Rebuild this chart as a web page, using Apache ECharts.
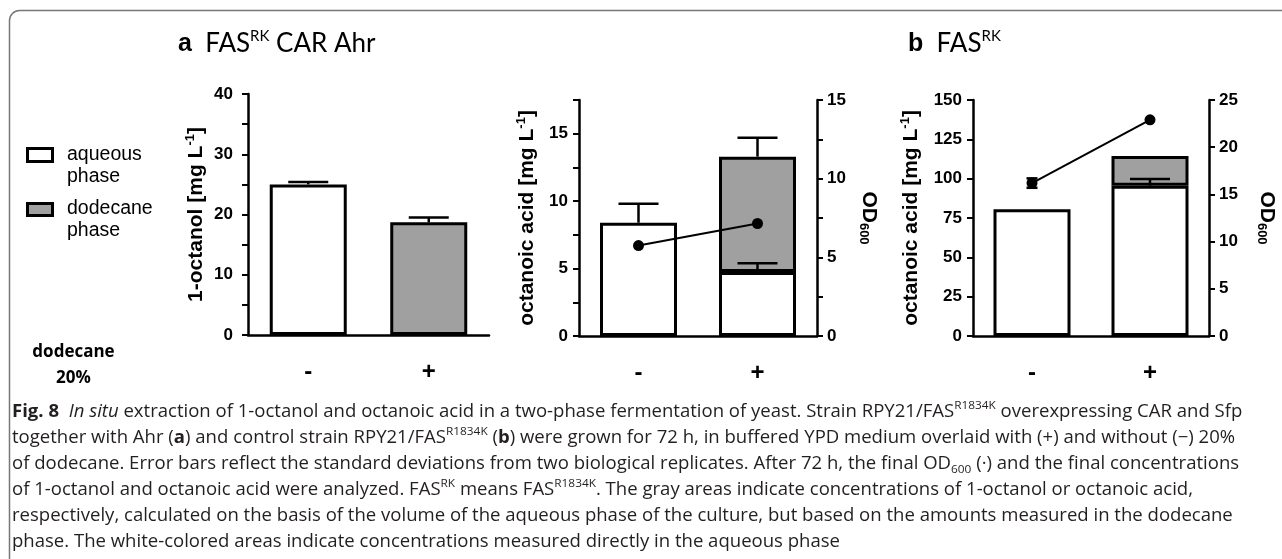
<!DOCTYPE html>
<html><head><meta charset="utf-8">
<script src="https://cdn.jsdelivr.net/npm/echarts@6/dist/echarts.min.js"></script>
<style>html,body{margin:0;padding:0;background:#fff}#c{width:1282px;height:559px}</style>
</head><body><div id="c"></div>
<script>
// ---------- data ----------
const categories = ['-', '+'];
// panel a, 1-octanol
const octanolAqueousA = [25.0, null];
const octanolDodecaneA = [null, 18.7];
const octanolErrTopA = [25.4, 19.5];
// panel a, octanoic acid
const acidAqueousA = [8.4, 4.75];
const acidDodecaneA = [null, 8.55];
const acidAqueousErrTopA = [9.8, 5.4];
const acidTotalErrTopA = [null, 14.7];
const od600A = [5.75, 7.15];
// panel b, octanoic acid
const acidAqueousB = [80.5, 95.5];
const acidDodecaneB = [null, 18.9];
const acidAqueousErrTopB = [null, 99.8];
const od600B = [16.2, 22.9];
const od600ErrB = [0.5, null];
// tick labels
const yLabelsOctanol = [0, 10, 20, 30, 40];
const yLabelsAcidA = [0, 5, 10, 15];
const yLabelsOdA = [0, 5, 10, 15];
const yLabelsAcidB = [0, 25, 50, 75, 100, 125, 150];
const yLabelsOdB = [0, 5, 10, 15, 20, 25];

// ---------- helpers ----------
const ARIAL = 'Liberation Sans, Arial, sans-serif';
const GRAY = '#a0a0a0';
function sumArr(a, b) { return a.map((v, i) => (v || 0) + (b[i] || 0)); }
function errRows(base, top) {
  const r = [];
  top.forEach((t, i) => { if (t != null) r.push([i, base[i], t]); });
  return r;
}
function symRows(center, err) {
  const r = [];
  err.forEach((e, i) => { if (e != null) r.push([i, center[i] - e, center[i] + e]); });
  return r;
}
function errSeries(xi, yi, data, capW, both) {
  return {
    type: 'custom', xAxisIndex: xi, yAxisIndex: yi, z: 5, silent: true, data: data,
    renderItem: function (params, api) {
      const x = api.value(0), lo = api.value(1), hi = api.value(2);
      const p0 = api.coord([x, lo]), p1 = api.coord([x, hi]);
      const h = capW / 2, st = { stroke: '#000', lineWidth: 2.5 };
      const ch = [
        { type: 'line', shape: { x1: p0[0], y1: p0[1], x2: p1[0], y2: p1[1] }, style: st },
        { type: 'line', shape: { x1: p1[0] - h, y1: p1[1], x2: p1[0] + h, y2: p1[1] }, style: st }
      ];
      if (both) ch.push({ type: 'line', shape: { x1: p0[0] - h, y1: p0[1], x2: p0[0] + h, y2: p0[1] }, style: st });
      return { type: 'group', children: ch };
    }
  };
}
function xAxisOf(gi) {
  return {
    type: 'category', gridIndex: gi, data: categories,
    axisLine: { lineStyle: { color: '#000', width: 2.5 } },
    axisTick: { alignWithLabel: true, length: 6, lineStyle: { color: '#000', width: 2 } },
    axisLabel: { color: '#000', fontFamily: ARIAL, fontWeight: 'bold', fontSize: 24, margin: 25 },
    splitLine: { show: false }
  };
}
function yAxisOf(gi, pos, max, step, labels, margin, name, nameGap, rot) {
  return {
    type: 'value', gridIndex: gi, position: pos, min: 0, max: max, interval: step,
    axisLine: { show: true, lineStyle: { color: '#000', width: 2.5 } },
    axisTick: { show: true, length: 6, lineStyle: { color: '#000', width: 2 } },
    axisLabel: {
      color: '#000', fontFamily: ARIAL, fontWeight: 'bold', fontSize: 17, margin: margin,
      formatter: v => labels.indexOf(v) >= 0 ? String(v) : ''
    },
    splitLine: { show: false },
    name: name, nameLocation: 'middle', nameGap: nameGap, nameRotate: rot,
    nameTextStyle: {
      rich: {
        a: { fontFamily: ARIAL, fontWeight: 'bold', fontSize: 21, color: '#000', lineHeight: 24 },
        s: { fontFamily: ARIAL, fontWeight: 'bold', fontSize: 13, color: '#000', verticalAlign: 'top', lineHeight: 13 },
        d: { fontFamily: ARIAL, fontWeight: 'bold', fontSize: 13, color: '#000', verticalAlign: 'bottom', lineHeight: 13 }
      }
    }
  };
}
const barStyle = (fill) => ({ color: fill, borderColor: '#000', borderWidth: 3 });
const yNameMg = (t) => '{a|' + t + ' [mg L}{s|-1}{a|]}';
const odName = '{a|OD}{d|600}';

// ---------- caption ----------
const CAP = 'Open Sans, Noto Sans, sans-serif';
const CAPC = '#231f20';
const capRich = {
  b: { fontFamily: CAP, fontWeight: 'bold', fontSize: 18, color: CAPC, lineHeight: 24 },
  i: { fontFamily: CAP, fontStyle: 'italic', fontSize: 18, color: CAPC, lineHeight: 24 },
  sup: { fontFamily: CAP, fontSize: 11.5, color: CAPC, verticalAlign: 'top', lineHeight: 13 },
  sub: { fontFamily: CAP, fontSize: 11.5, color: CAPC, verticalAlign: 'bottom', lineHeight: 11 }
};
const captionLines = [
  '{b|Fig. 8}  {i|In situ} extraction of 1-octanol and octanoic acid in a two-phase fermentation of yeast. Strain RPY21/FAS{sup|R1834K} overexpressing CAR and Sfp',
  'together with Ahr ({b|a}) and control strain RPY21/FAS{sup|R1834K} ({b|b}) were grown for 72 h, in buffered YPD medium overlaid with (+) and without (\u2212) 20%',
  'of dodecane. Error bars reflect the standard deviations from two biological replicates. After 72 h, the final OD{sub|600} (\u00b7) and the final concentrations',
  'of 1-octanol and octanoic acid were analyzed. FAS{sup|RK} means FAS{sup|R1834K}. The gray areas indicate concentrations of 1-octanol or octanoic acid,',
  'respectively, calculated on the basis of the volume of the aqueous phase of the culture, but based on the amounts measured in the dodecane',
  'phase. The white-colored areas indicate concentrations measured directly in the aqueous phase'
];
const capScale = 1.03;
const graphics = [
  { type: 'rect', z: -10, shape: { x: 9.5, y: 10.5, width: 1500, height: 800, r: 10 },
    style: { fill: 'none', stroke: '#777', lineWidth: 1.5 } },
  // panel titles
  { type: 'text', x: 178, y: 44, style: {
      text: '{b|a}{t|  FAS}{s|RK}{t| CAR Ahr}', verticalAlign: 'middle',
      rich: {
        b: { fontFamily: ARIAL, fontWeight: 'bold', fontSize: 25, color: '#000', lineHeight: 30 },
        t: { fontFamily: 'Lato, sans-serif', fontSize: 26, color: '#000', lineHeight: 30 },
        s: { fontFamily: 'Lato, sans-serif', fontSize: 15, color: '#000', verticalAlign: 'top', lineHeight: 17 }
      } } },
  { type: 'text', x: 908, y: 44, style: {
      text: '{b|b}{t|  FAS}{s|RK}', verticalAlign: 'middle',
      rich: {
        b: { fontFamily: ARIAL, fontWeight: 'bold', fontSize: 25, color: '#000', lineHeight: 30 },
        t: { fontFamily: 'Lato, sans-serif', fontSize: 26, color: '#000', lineHeight: 30 },
        s: { fontFamily: 'Lato, sans-serif', fontSize: 15, color: '#000', verticalAlign: 'top', lineHeight: 17 }
      } } },
  // legend
  { type: 'rect', shape: { x: 27.5, y: 148.5, width: 25, height: 13 }, style: { fill: '#fff', stroke: '#000', lineWidth: 3 } },
  { type: 'text', x: 67, y: 144, style: { text: 'aqueous\nphase', fontFamily: ARIAL, fontSize: 19.5, lineHeight: 22, fill: '#000', verticalAlign: 'top' } },
  { type: 'rect', shape: { x: 27.5, y: 203.5, width: 25, height: 12 }, style: { fill: GRAY, stroke: '#000', lineWidth: 3 } },
  { type: 'text', x: 67, y: 198, style: { text: 'dodecane\nphase', fontFamily: ARIAL, fontSize: 19.5, lineHeight: 22, fill: '#000', verticalAlign: 'top' } },
  // dodecane 20%
  { type: 'text', x: 73.5, y: 352, style: { text: 'dodecane', fontFamily: 'Open Sans, sans-serif', fontWeight: 'bold', fontSize: 17, fill: '#000', align: 'center', verticalAlign: 'middle' } },
  { type: 'text', x: 73.5, y: 378, style: { text: '20%', fontFamily: 'Open Sans, sans-serif', fontWeight: 'bold', fontSize: 17, fill: '#000', align: 'center', verticalAlign: 'middle' } }
];
captionLines.forEach((t, i) => {
  graphics.push({ type: 'text', x: 12, y: 412 + 26 * i, scaleX: capScale, style: {
    text: t, fontFamily: CAP, fontSize: 18, lineHeight: 24, fill: CAPC, verticalAlign: 'middle', rich: capRich } });
});

// ---------- option ----------
const option = {
  animation: false,
  backgroundColor: '#fff',
  grid: [
    { left: 248, top: 94, width: 241, height: 241 },
    { left: 579, top: 100, width: 238, height: 236 },
    { left: 973, top: 100, width: 236, height: 236 }
  ],
  xAxis: [xAxisOf(0), xAxisOf(1), xAxisOf(2)],
  yAxis: [
    yAxisOf(0, 'left', 40, 5, yLabelsOctanol, 15, yNameMg('1-octanol'), 40, 90),
    yAxisOf(1, 'left', 17.5, 2.5, yLabelsAcidA, 11, yNameMg('octanoic acid'), 40, 90),
    yAxisOf(1, 'right', 15, 2.5, yLabelsOdA, 10, odName, 40, -90),
    yAxisOf(2, 'left', 150, 25, yLabelsAcidB, 11, yNameMg('octanoic acid'), 50, 90),
    yAxisOf(2, 'right', 25, 5, yLabelsOdB, 10, odName, 46, -90)
  ],
  graphic: graphics,
  series: [
    // panel a 1-octanol
    { name: 'aqueous phase', type: 'bar', xAxisIndex: 0, yAxisIndex: 0, stack: 'p0', barWidth: 77, data: octanolAqueousA, itemStyle: barStyle('#fff') },
    { name: 'dodecane phase', type: 'bar', xAxisIndex: 0, yAxisIndex: 0, stack: 'p0', barWidth: 77, data: octanolDodecaneA, itemStyle: barStyle(GRAY) },
    errSeries(0, 0, errRows(sumArr(octanolAqueousA, octanolDodecaneA), octanolErrTopA), 40, false),
    // panel a octanoic acid
    { name: 'aqueous phase', type: 'bar', xAxisIndex: 1, yAxisIndex: 1, stack: 'p1', barWidth: 77, data: acidAqueousA, itemStyle: barStyle('#fff') },
    { name: 'dodecane phase', type: 'bar', xAxisIndex: 1, yAxisIndex: 1, stack: 'p1', barWidth: 77, data: acidDodecaneA, itemStyle: barStyle(GRAY) },
    errSeries(1, 1, errRows(acidAqueousA, acidAqueousErrTopA), 40, false),
    errSeries(1, 1, errRows(sumArr(acidAqueousA, acidDodecaneA), acidTotalErrTopA), 40, false),
    { name: 'OD600', type: 'line', xAxisIndex: 1, yAxisIndex: 2, data: od600A, z: 6, symbol: 'circle', symbolSize: 11,
      itemStyle: { color: '#000' }, lineStyle: { color: '#000', width: 2 } },
    // panel b
    { name: 'aqueous phase', type: 'bar', xAxisIndex: 2, yAxisIndex: 3, stack: 'p2', barWidth: 77, data: acidAqueousB, itemStyle: barStyle('#fff') },
    { name: 'dodecane phase', type: 'bar', xAxisIndex: 2, yAxisIndex: 3, stack: 'p2', barWidth: 77, data: acidDodecaneB, itemStyle: barStyle(GRAY) },
    errSeries(2, 3, errRows(acidAqueousB, acidAqueousErrTopB), 40, false),
    { name: 'OD600', type: 'line', xAxisIndex: 2, yAxisIndex: 4, data: od600B, z: 6, symbol: 'circle', symbolSize: 11,
      itemStyle: { color: '#000' }, lineStyle: { color: '#000', width: 2 } },
    errSeries(2, 4, symRows(od600B, od600ErrB), 11, true)
  ]
};
const chart = echarts.init(document.getElementById('c'), null, { renderer: 'canvas' });
chart.setOption(option);
</script></body></html>
